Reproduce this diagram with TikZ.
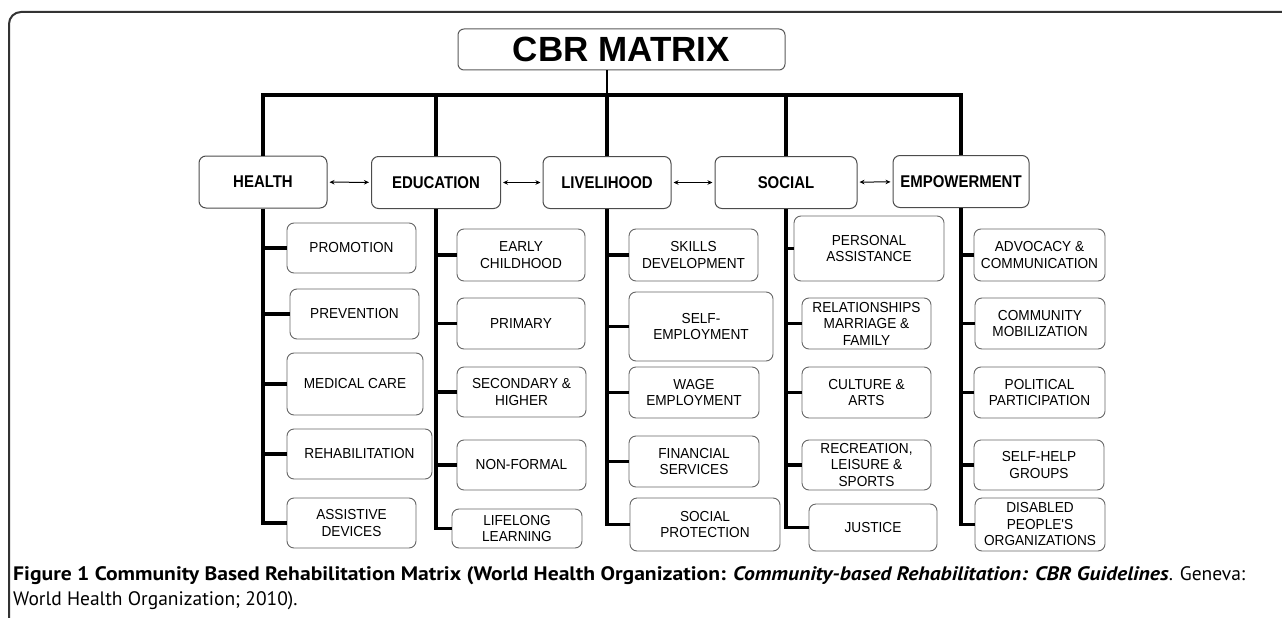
\documentclass[tikz,border=0pt]{standalone}
\usepackage{fontspec}
\setmainfont{Liberation Sans}
\newfontfamily\itemfont[FakeStretch=0.94]{Liberation Sans}
\newfontfamily\catfont[FakeStretch=0.88]{Liberation Sans}
\newfontfamily\capfont[BoldFeatures={FakeStretch=1.11}, BoldItalicFeatures={FakeStretch=1.11}]{PT Sans}
\usetikzlibrary{arrows.meta}

\tikzstyle{title_box} = [rectangle, rounded corners=6pt, draw=black!65, line width=1pt, minimum width=327pt, minimum height=41pt, inner sep=0pt, font=\fontsize{35}{40}\selectfont\bfseries]
\tikzstyle{cat_box} = [rectangle, rounded corners=7pt, draw=black!70, line width=1pt, minimum height=52pt, inner sep=0pt, font=\catfont\fontsize{17}{19}\selectfont\bfseries]
\tikzstyle{item_box} = [rectangle, rounded corners=7pt, draw=black!60, line width=0.9pt, inner sep=0pt, align=center, font=\itemfont\fontsize{14.5}{16.5}\selectfont]
\tikzstyle{spine} = [line width=3.5pt]
\tikzstyle{stem} = [line width=1.3pt]
\tikzstyle{dbl_arrow} = [line width=1pt, {Stealth[length=5pt,width=4.5pt]}-{Stealth[length=5pt,width=4.5pt]}, shorten <=2pt, shorten >=2pt]
\tikzstyle{frame} = [line width=2pt, draw=black!80, rounded corners=12pt]

\begin{document}
\begin{tikzpicture}[x=1pt, y=-1pt]
        \useasboundingbox (0,0) rectangle (1282,618);
        \draw [frame] (9,618) -- (9,12) -- (1282,12);

        \node (title) [title_box] at (621.5,49.5) {CBR MATRIX};
        \coordinate (bus) at (0,95);

        \node (health) [cat_box, minimum width=128pt] at (263,182) {HEALTH};
        \node (educ) [cat_box, minimum width=129pt] at (436,182.5) {EDUCATION};
        \node (liveli) [cat_box, minimum width=128pt] at (607,182.5) {LIVELIHOOD};
        \node (social) [cat_box, minimum width=142pt] at (786,182.5) {SOCIAL};
        \node (empower) [cat_box, minimum width=136pt] at (961,181.5) {EMPOWERMENT};

        % health column
        \node (promo) [item_box, minimum width=129pt, minimum height=50pt] at (351.5,248) {PROMOTION};
        \node (prevent) [item_box, minimum width=129pt, minimum height=50pt] at (354.5,314) {PREVENTION};
        \node (medcare) [item_box, minimum width=136pt, minimum height=62pt] at (355,384) {MEDICAL CARE};
        \node (rehab) [item_box, minimum width=145pt, minimum height=50pt] at (359.5,454) {REHABILITATION};
        \node (assist) [item_box, minimum width=129pt, minimum height=50pt] at (351.5,523) {ASSISTIVE\\DEVICES};

        % education column
        \node (early) [item_box, minimum width=128pt, minimum height=52pt] at (521,255) {EARLY\\CHILDHOOD};
        \node (primary) [item_box, minimum width=128pt, minimum height=51pt] at (521,323.5) {PRIMARY};
        \node (second) [item_box, minimum width=129pt, minimum height=50pt] at (521.5,392) {SECONDARY \&\\HIGHER};
        \node (nonformal) [item_box, minimum width=129pt, minimum height=50pt] at (521.5,465) {NON-FORMAL};
        \node (lifelong) [item_box, minimum width=130pt, minimum height=39pt] at (517,528.5) {LIFELONG\\LEARNING};

        % livelihood column
        \node (skills) [item_box, minimum width=129pt, minimum height=52pt] at (693.5,255) {SKILLS\\DEVELOPMENT};
        \node (selfemp) [item_box, minimum width=144pt, minimum height=69pt] at (701,326.5) {SELF-\\EMPLOYMENT};
        \node (wage) [item_box, minimum width=130pt, minimum height=51pt] at (694,392.5) {WAGE\\EMPLOYMENT};
        \node (finance) [item_box, minimum width=130pt, minimum height=51pt] at (694,461.5) {FINANCIAL\\SERVICES};
        \node (protect) [item_box, minimum width=150pt, minimum height=53pt] at (705,524.5) {SOCIAL\\PROTECTION};

        % social column
        \node (personal) [item_box, minimum width=150pt, minimum height=65pt] at (869,248.5) {PERSONAL\\ASSISTANCE};
        \node (family) [item_box, minimum width=129pt, minimum height=51pt] at (866.5,323.5) {RELATIONSHIPS\\MARRIAGE \&\\FAMILY};
        \node (culture) [item_box, minimum width=129pt, minimum height=51pt] at (866.5,392.5) {CULTURE \&\\ARTS};
        \node (leisure) [item_box, minimum width=129pt, minimum height=50pt] at (866.5,465) {RECREATION,\\LEISURE \&\\SPORTS};
        \node (justice) [item_box, minimum width=128pt, minimum height=47pt] at (873,527.5) {JUSTICE};

        % empowerment column
        \node (advocacy) [item_box, minimum width=131pt, minimum height=52pt] at (1039.5,255) {ADVOCACY \&\\COMMUNICATION};
        \node (mobil) [item_box, minimum width=130pt, minimum height=51pt] at (1040,323.5) {COMMUNITY\\MOBILIZATION};
        \node (politic) [item_box, minimum width=131pt, minimum height=51pt] at (1039.5,392.5) {POLITICAL\\PARTICIPATION};
        \node (selfhelp) [item_box, minimum width=130pt, minimum height=50pt] at (1039,465) {SELF-HELP\\GROUPS};
        \node (dpo) [item_box, minimum width=130pt, minimum height=53pt] at (1040,524.5) {DISABLED\\PEOPLE'S\\ORGANIZATIONS};

        \node (caption) [anchor=north west, align=left, inner sep=0pt, font=\capfont\fontsize{19.5}{25}\selectfont] at (13,566) {\makebox[1232pt][s]{\textbf{Figure 1 Community Based Rehabilitation Matrix (World Health Organization: \textit{Community-based Rehabilitation: CBR Guidelines}}. Geneva:}\\World Health Organization; 2010).};

        \draw [stem] (title.south -| liveli.north) -- (liveli.north |- bus);
        \draw [spine] (health.north) -- (health.north |- bus) -- (empower.north |- bus) -- (empower.north);
        \draw [spine] (educ.north) -- (educ.north |- bus);
        \draw [spine] (liveli.north) -- (liveli.north |- bus);
        \draw [spine] (social.north) -- (social.north |- bus);

        \draw [dbl_arrow] (health) -- (educ);
        \draw [dbl_arrow] (educ) -- (liveli);
        \draw [dbl_arrow] (liveli) -- (social);
        \draw [dbl_arrow] (social) -- (empower);

        \draw [spine] (health.south) |- (assist.west) (health.south) |- (rehab.west) (health.south) |- (medcare.west)
                (health.south) |- (prevent.west) (health.south) |- (promo.west);
        \draw [spine] (educ.south) |- (lifelong.west) (educ.south) |- (nonformal.west) (educ.south) |- (second.west)
                (educ.south) |- (primary.west) (educ.south) |- (early.west);
        \draw [spine] (liveli.south) |- (protect.west) (liveli.south) |- (finance.west) (liveli.south) |- (wage.west)
                (liveli.south) |- (selfemp.west) (liveli.south) |- (skills.west);
        \draw [spine] (social.south) |- (justice.west) (social.south) |- (leisure.west) (social.south) |- (culture.west)
                (social.south) |- (family.west) (social.south) |- (personal.west);
        \draw [spine] (empower.south) |- (dpo.west) (empower.south) |- (selfhelp.west) (empower.south) |- (politic.west)
                (empower.south) |- (mobil.west) (empower.south) |- (advocacy.west);
    \end{tikzpicture}
\end{document}
